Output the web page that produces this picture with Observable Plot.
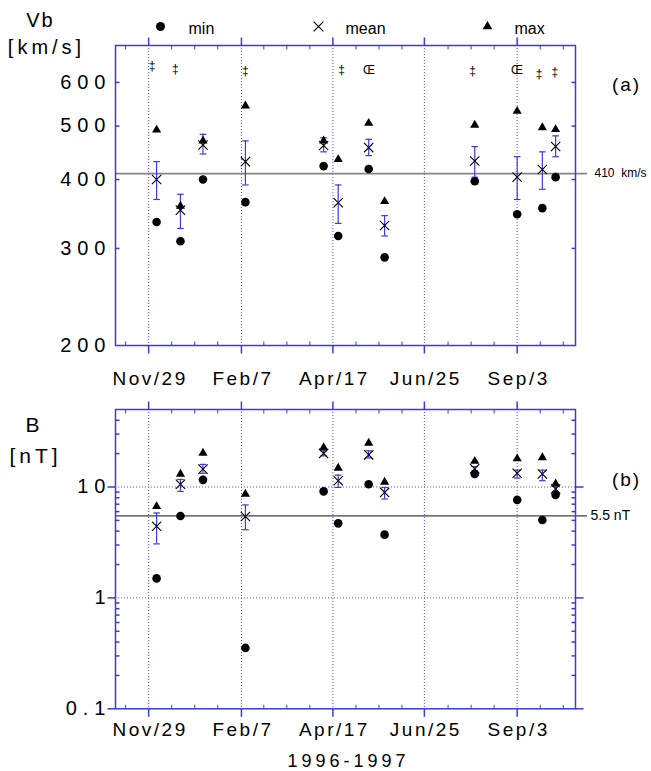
<!DOCTYPE html>
<html>
<head>
<meta charset="utf-8">
<script src="https://cdn.jsdelivr.net/npm/d3@7"></script>
<script src="https://cdn.jsdelivr.net/npm/@observablehq/plot@0.6"></script>
<style>
  html, body { margin: 0; padding: 0; background: #fff; }
  #chart { width: 651px; height: 771px; position: relative; overflow: hidden; }
  #chart svg { display: block; }
  g[aria-description="ytick-label"] text { letter-spacing: 6px; }
  g[aria-description="xtick-label"] text { letter-spacing: 2.5px; }
  g[aria-description="unit-label"] text { letter-spacing: 4px; }
  g[aria-description="year-label"] text { letter-spacing: 4px; }
  g[aria-description="panel-label"] text { letter-spacing: 2px; }
</style>
</head>
<body>
<div id="chart"></div>
<script>
// ---------------- data ----------------
// x: day number counted from 1996-01-01 (day 1 = Jan 1, 1996)
const eventDays = [340, 358, 375, 407, 466, 477, 500, 512, 580, 612, 631, 641];

// panel (a): solar wind speed Vb [km/s]
const vbMin   = [335, 309, 400, 364, 423, 316, 418, 289, 397, 346, 355, 404];
const vbMean  = [400, 352, 462, 431, 461, 363, 457, 330, 432, 404, 417, 459];
const vbErrLo = [368, 326, 445, 391, 449, 333, 442, 316, 404, 368, 384, 440];
const vbErrHi = [431, 376, 483, 470, 476, 391, 473, 344, 459, 440, 449, 480];
const vbMax   = [492, 358, 470, 544, 470, 435, 506, 365, 502, 532, 497, 493];

// panel (b): magnetic field B [nT]
const bMin   = [1.50, 5.48, 11.6, 0.354, 9.13, 4.70, 10.6, 3.72, 13.1, 7.65, 5.04, 8.5];
const bMean  = [4.42, 10.6, 14.5, 5.43, 20.1, 11.4, 19.5, 8.94, 14.6, 13.3, 13.1, 9.6];
const bErrLo = [3.07, 9.13, 13.3, 4.12, 19.1, 9.92, 18.3, 7.8, 14.0, 12.05, 11.4, 9.1];
const bErrHi = [5.83, 11.7, 16.0, 6.89, 21.2, 12.8, 21.2, 9.9, 15.3, 14.2, 14.2, 10.2];
const bMax   = [6.68, 13.1, 20.2, 8.65, 22.7, 14.8, 24.9, 11.1, 17.1, 18.0, 18.4, 10.7];

// annotation symbols above panel (a)
const annotSymbols = ["‡", "‡", "‡", "‡", "Œ", "‡", "Œ", "‡", "‡"];
const annotDays    = [336.6, 354.2, 407, 479.6, 500.2, 578.3, 611.8, 628.6, 640.4];
const annotValues  = [641, 635, 630, 632, 632, 628, 632, 622, 625];

// reference levels
const vbRef = 410, vbRefLabel = "410  km/s";
const bRef = 5.5, bRefLabel = "5.5 nT";

// axes
const xDomain = [309, 656];
const tickDays = [334, 404, 473, 542, 612];
const tickLabels = ["Nov/29", "Feb/7", "Apr/17", "Jun/25", "Sep/3"];
const vbDomain = [200, 700];
const vbTickValues = [200, 300, 400, 500, 600];
const vbInnerTicks = [300, 400, 500, 600];
const bDomain = [0.1, 50];
const bTickValues = [0.1, 1, 10];
const bTickLabels = ["0.1", "1", "10"];
const bGrid = [1, 10];

// legend
const legendLabels = ["min", "mean", "max"];
const legendSymbols = ["circle", "times", "triangle"];

// ---------------- styling ----------------
const blue = "#3b3bd9";
const dotBlue = "#4d4df0";
const fontFam = '"Liberation Sans", Arial, Helvetica, sans-serif';
const W = 651;
const C = {textAnchor: "middle", lineAnchor: "middle", fill: "black"};

const sym = f => ({draw(ctx, size) { f(ctx, Math.sqrt(size / Math.PI)); }});
const tickUp    = sym((c, r) => { c.moveTo(0, 0); c.lineTo(0, -r); });
const tickDown  = sym((c, r) => { c.moveTo(0, 0); c.lineTo(0, r); });
const tickLeft  = sym((c, r) => { c.moveTo(0, 0); c.lineTo(-r, 0); });
const tickRight = sym((c, r) => { c.moveTo(0, 0); c.lineTo(r, 0); });
const hbar      = sym((c, r) => { c.moveTo(-r, 0); c.lineTo(r, 0); });

const tickRows = tickDays.map((day, i) => ({day, label: tickLabels[i]}));
const minorStep = (tickDays[tickDays.length - 1] - tickDays[0]) / 16;
const minorDays = d3.range(-1, 19).filter(i => i % 4 !== 0)
  .map(i => tickDays[0] + i * minorStep)
  .filter(d => d > xDomain[0] && d < xDomain[1]);

const rowsOf = (mn, me, lo, hi, mx) => eventDays.map((day, i) => ({day, min: mn[i], mean: me[i], lo: lo[i], hi: hi[i], max: mx[i]}));
const vbRows = rowsOf(vbMin, vbMean, vbErrLo, vbErrHi, vbMax);
const bRows = rowsOf(bMin, bMean, bErrLo, bErrHi, bMax);
const annotRows = annotSymbols.map((s, i) => ({s, day: annotDays[i], v: annotValues[i]}));

function xMarks(labelDy) {
  return [
    Plot.ruleX(tickDays, {x: d => d, stroke: dotBlue, strokeDasharray: "1,2", strokeWidth: 1}),
    Plot.dot(tickDays, {x: d => d, frameAnchor: "bottom", symbol: tickDown, r: 8, stroke: blue, strokeWidth: 1.5, fill: "none"}),
    Plot.dot(tickDays, {x: d => d, frameAnchor: "top", symbol: tickUp, r: 8, stroke: blue, strokeWidth: 1.5, fill: "none"}),
    Plot.dot(minorDays, {x: d => d, frameAnchor: "bottom", symbol: tickUp, r: 4, stroke: blue, strokeWidth: 1, fill: "none"}),
    Plot.dot(minorDays, {x: d => d, frameAnchor: "top", symbol: tickDown, r: 4, stroke: blue, strokeWidth: 1, fill: "none"}),
    Plot.text(tickRows, {...C, x: "day", text: "label", frameAnchor: "bottom", dy: labelDy, dx: 1.5, fontSize: 19, ariaDescription: "xtick-label"})
  ];
}

function dataMarks(rows) {
  return [
    Plot.ruleX(rows, {x: "day", y1: "lo", y2: "hi", stroke: blue, strokeWidth: 1.2}),
    Plot.dot(rows, {x: "day", y: "lo", symbol: hbar, r: 3.3, stroke: blue, strokeWidth: 1.2, fill: "none"}),
    Plot.dot(rows, {x: "day", y: "hi", symbol: hbar, r: 3.3, stroke: blue, strokeWidth: 1.2, fill: "none"}),
    Plot.dot(rows, {x: "day", y: "min", symbol: "circle", r: 4.3, fill: "black", stroke: "none"}),
    Plot.dot(rows, {x: "day", y: "max", symbol: "triangle", r: 3.4, fill: "black", stroke: "none"}),
    Plot.dot(rows, {x: "day", y: "mean", symbol: "times", r: 4.3, stroke: "black", strokeWidth: 1.1, fill: "none"})
  ];
}

function panel({height, marginTop, marginBottom, yDomain, marks}) {
  return Plot.plot({
    width: W, height, marginLeft: 115, marginRight: 76, marginTop, marginBottom,
    x: {domain: xDomain, axis: null},
    y: {type: "log", domain: yDomain, axis: null},
    style: {fontFamily: fontFam, fontSize: "12px", background: "white", overflow: "visible", color: "black"},
    marks
  });
}

// legend layout (pixel offsets from the top-left corner of panel (a) frame)
const legendSymbolDx = [45, 203, 372];
const legendTextDx = [73, 230, 399];
const legendMarks = legendLabels.flatMap((lab, i) => [
  Plot.dot([lab], {frameAnchor: "top-left", dx: legendSymbolDx[i], dy: -19,
    symbol: legendSymbols[i], r: legendSymbols[i] === "triangle" ? 3.6 : 4.5,
    fill: legendSymbols[i] === "times" ? "none" : "black",
    stroke: legendSymbols[i] === "times" ? "black" : "none", strokeWidth: 1.1}),
  Plot.text([lab], {...C, text: d => d, frameAnchor: "top-left", dx: legendTextDx[i], dy: -16.5, textAnchor: "start", fontSize: 16})
]);

const panelA = panel({
  height: 400, marginTop: 45, marginBottom: 55, yDomain: vbDomain,
  marks: [
    ...xMarks(33.5),
    Plot.ruleY([vbRef], {y: d => d, stroke: "#858585", strokeWidth: 1.6, insetRight: -12}),
    Plot.frame({stroke: blue, strokeWidth: 1.5}),
    Plot.dot(vbInnerTicks, {y: d => d, frameAnchor: "left", symbol: tickRight, r: 4, stroke: blue, fill: "none"}),
    Plot.dot(vbInnerTicks, {y: d => d, frameAnchor: "right", symbol: tickLeft, r: 4, stroke: blue, fill: "none"}),
    Plot.text(vbTickValues, {...C, y: d => d, text: d => String(d), frameAnchor: "left", textAnchor: "end", dx: -4, fontSize: 20, ariaDescription: "ytick-label"}),
    ...dataMarks(vbRows),
    Plot.text(annotRows, {...C, x: "day", y: "v", text: "s", fontSize: 12}),
    Plot.text([vbRefLabel], {...C, y: () => vbRef, text: d => d, frameAnchor: "right", dx: 19, textAnchor: "start", fontSize: 12}),
    Plot.text(["(a)"], {...C, text: d => d, frameAnchor: "top-right", dx: 51, dy: 39, fontSize: 19, ariaDescription: "panel-label"}),
    Plot.text(["Vb"], {...C, text: d => d, frameAnchor: "top-left", dx: -75, dy: -25, fontSize: 20, ariaDescription: "panel-label"}),
    Plot.text(["[km/s]"], {...C, text: d => d, frameAnchor: "top-left", dx: -69, dy: 2, fontSize: 20, ariaDescription: "unit-label"}),
    ...legendMarks
  ]
});

const bMinor = [0.1, 1, 10].flatMap(dec => d3.range(2, 10).map(k => k * dec)).filter(v => v < bDomain[1]);
const bTickRows = bTickValues.map((v, i) => ({v, label: bTickLabels[i]}));

const panelB = panel({
  height: 371, marginTop: 9, marginBottom: 62.7, yDomain: bDomain,
  marks: [
    ...xMarks(21),
    Plot.ruleY(bGrid, {y: d => d, stroke: dotBlue, strokeDasharray: "1,2", strokeWidth: 1}),
    Plot.ruleY([bRef], {y: d => d, stroke: "#404040", strokeWidth: 1.3, insetRight: -12}),
    Plot.frame({stroke: blue, strokeWidth: 1.5}),
    Plot.dot(bTickValues, {y: d => d, frameAnchor: "left", symbol: tickLeft, r: 8, stroke: blue, strokeWidth: 1.5, fill: "none"}),
    Plot.dot(bTickValues, {y: d => d, frameAnchor: "right", symbol: tickRight, r: 8, stroke: blue, strokeWidth: 1.5, fill: "none"}),
    Plot.dot(bMinor, {y: d => d, frameAnchor: "left", symbol: tickRight, r: 4, stroke: blue, fill: "none"}),
    Plot.dot(bMinor, {y: d => d, frameAnchor: "right", symbol: tickLeft, r: 4, stroke: blue, fill: "none"}),
    Plot.text(bTickRows, {...C, y: "v", text: "label", frameAnchor: "left", textAnchor: "end", dx: -4, fontSize: 20, ariaDescription: "ytick-label"}),
    ...dataMarks(bRows),
    Plot.text([bRefLabel], {...C, y: () => bRef, text: d => d, frameAnchor: "right", dx: 15, textAnchor: "start", fontSize: 14}),
    Plot.text(["(b)"], {...C, text: d => d, frameAnchor: "top-right", dx: 51, dy: 70, fontSize: 19, ariaDescription: "panel-label"}),
    Plot.text(["B"], {...C, text: d => d, frameAnchor: "top-left", dx: -83, dy: 16, fontSize: 21}),
    Plot.text(["[nT]"], {...C, text: d => d, frameAnchor: "top-left", dx: -80, dy: 47, fontSize: 21, ariaDescription: "unit-label"}),
    Plot.text(["1996-1997"], {...C, text: d => d, frameAnchor: "bottom", dx: 3, dy: 52, fontSize: 18, ariaDescription: "year-label"})
  ]
});

const chart = document.getElementById("chart");
chart.appendChild(panelA);
chart.appendChild(panelB);
</script>
</body>
</html>
